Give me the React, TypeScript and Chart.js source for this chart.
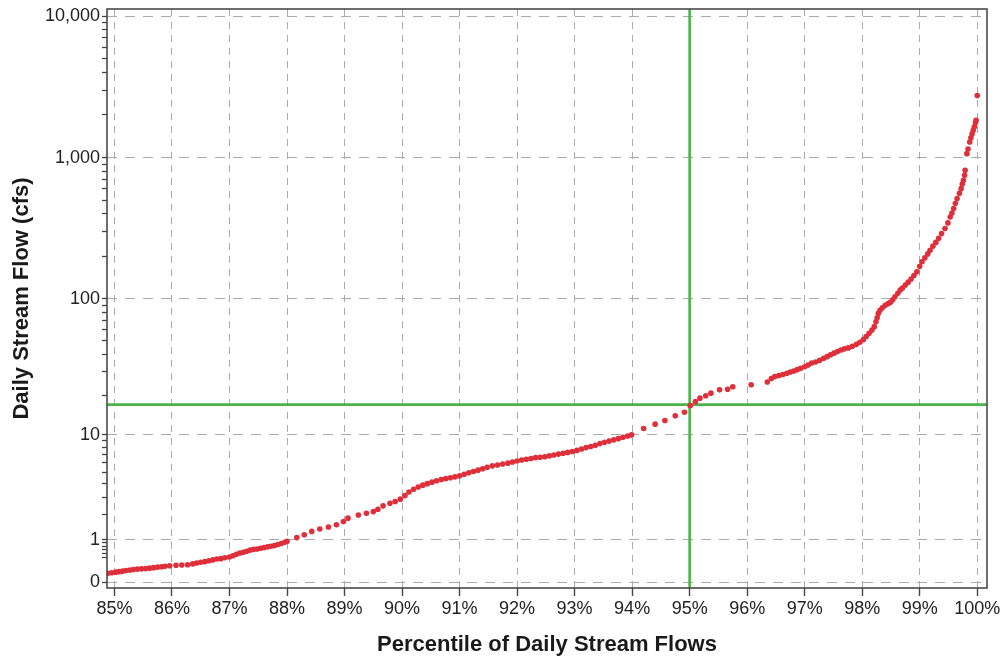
import React, { useEffect, useRef } from "react";
import { Chart, registerables } from "chart.js";

Chart.register(...registerables);

// Flow-duration curve: percentile of daily flows vs. daily stream flow (cfs)
const percentiles = [
  84.88, 84.95, 85.02, 85.08, 85.14, 85.2, 85.27, 85.33, 85.4, 85.47, 85.54, 85.61, 85.68, 85.75, 85.82, 85.88,
  85.96, 86.07, 86.17, 86.27, 86.36, 86.43, 86.5, 86.57, 86.64, 86.71, 86.78, 86.85, 86.92, 87.0, 87.06, 87.12,
  87.18, 87.24, 87.3, 87.36, 87.42, 87.48, 87.54, 87.6, 87.66, 87.72, 87.78, 87.84, 87.9, 87.96, 88.0,
  88.17, 88.3, 88.43, 88.57, 88.72, 88.86, 88.98, 89.06, 89.24, 89.38, 89.5, 89.58, 89.67, 89.79, 89.88, 89.97,
  90.05, 90.12, 90.2, 90.28, 90.36, 90.44, 90.52, 90.6, 90.68, 90.76, 90.84, 90.92, 91.0, 91.08, 91.16, 91.24,
  91.32, 91.4, 91.48, 91.57, 91.66, 91.75, 91.84, 91.92, 92.0, 92.08, 92.16, 92.24, 92.32, 92.4, 92.48, 92.56,
  92.64, 92.72, 92.8, 92.88, 92.96, 93.04, 93.12, 93.2, 93.28, 93.36, 93.44, 93.52, 93.6, 93.68, 93.76, 93.84,
  93.92, 93.99,
  94.2, 94.4, 94.57, 94.75, 94.91, 95.01, 95.1, 95.18, 95.28, 95.37, 95.52, 95.66, 95.75, 96.07,
  96.35, 96.42, 96.48, 96.55, 96.62, 96.69, 96.75, 96.81, 96.87, 96.93, 97.0, 97.06, 97.12, 97.19, 97.26, 97.33,
  97.39, 97.45, 97.51, 97.57, 97.63, 97.69, 97.76, 97.83, 97.9, 97.96, 98.02, 98.07, 98.12, 98.17, 98.21, 98.24,
  98.26, 98.28, 98.31, 98.35, 98.4, 98.45, 98.49, 98.53, 98.57, 98.62, 98.66,
  98.7, 98.75, 98.8, 98.85, 98.9, 98.95, 99.0, 99.04, 99.09, 99.14, 99.18, 99.23, 99.28, 99.33, 99.38, 99.44,
  99.49, 99.53, 99.56, 99.59, 99.62, 99.65, 99.69, 99.72, 99.74, 99.76, 99.78, 99.79, 99.82, 99.84, 99.87, 99.89,
  99.91, 99.93, 99.95, 99.97, 99.98, 100.0,
];

const flows = [
  0.16, 0.17, 0.18, 0.19, 0.2, 0.21, 0.22, 0.23, 0.24, 0.245, 0.25, 0.26, 0.27, 0.28, 0.29, 0.3,
  0.31, 0.32, 0.325, 0.33, 0.35, 0.37, 0.385, 0.4, 0.42, 0.44, 0.46, 0.47, 0.49, 0.51, 0.54, 0.58,
  0.61, 0.63, 0.66, 0.69, 0.71, 0.72, 0.74, 0.76, 0.78, 0.8, 0.82, 0.85, 0.88, 0.92, 0.95,
  1.07, 1.17, 1.29, 1.38, 1.46, 1.55, 1.69, 1.84, 1.99, 2.08, 2.16, 2.28, 2.47, 2.62, 2.72, 2.87,
  3.1, 3.35, 3.55, 3.72, 3.86, 3.98, 4.1, 4.22, 4.32, 4.4, 4.48, 4.56, 4.65, 4.8, 4.95, 5.07,
  5.2, 5.35, 5.5, 5.65, 5.75, 5.85, 5.95, 6.08, 6.2, 6.3, 6.4, 6.5, 6.6, 6.65, 6.72, 6.82,
  6.92, 7.05, 7.17, 7.28, 7.4, 7.55, 7.75, 7.95, 8.12, 8.3, 8.55, 8.75, 8.95, 9.15, 9.35, 9.58,
  9.8, 10.0,
  11.2, 12.1, 12.9, 14.0, 14.9, 16.7, 17.9, 19.0, 19.8, 20.7, 21.9, 22.1, 23.1, 23.9,
  25.0, 26.5, 27.4, 27.9, 28.4, 29.0, 29.6, 30.1, 30.8, 31.5, 32.3, 33.3, 34.4, 35.0, 36.0, 37.3,
  38.3, 39.5, 40.6, 41.7, 42.8, 43.6, 44.3, 45.5, 47.0, 48.6, 50.8, 53.5, 56.5, 59.5, 63.0, 68.3,
  73.0, 78.4, 82.5, 86.0, 89.5, 92.0, 94.0, 98.0, 103, 109, 115,
  119, 125, 131, 138, 146, 155, 170, 183, 195, 208, 221, 236, 251, 268, 290, 315,
  345, 380, 405, 436, 475, 513, 560, 603, 650, 691, 750, 812, 1066, 1150, 1288, 1380,
  1470, 1559, 1650, 1760, 1832, 2750,
];

// Axis ticks
const xTickValues = [85, 86, 87, 88, 89, 90, 91, 92, 93, 94, 95, 96, 97, 98, 99, 100];
const yMajorTicks = [0, 1, 10, 100, 1000, 10000];
const yMinorTicks = [
  0.5, 0.6, 0.7, 0.8, 0.9,
  2, 3, 4, 5, 6, 7, 8, 9,
  20, 30, 40, 50, 60, 70, 80, 90,
  200, 300, 400, 500, 600, 700, 800, 900,
  2000, 3000, 4000, 5000, 6000, 7000, 8000, 9000,
];

// 95th-percentile reference lines
const markerPercentile = 95;
const markerFlow = 17;

// Flow axis is log10(flow + 1) so that zero flow can be shown
const toAxis = (v: number) => Math.log10(v + 1);

const X_MIN = 84.87;
const X_MAX = 100.17;
const Y_MIN = -0.04;
const Y_MAX = 4.05;

const FONT = "'Liberation Sans', Arial, Helvetica, sans-serif";
const GREEN = "#47b54a";
const RED = "#df2f3a";

const framePlugin = {
  id: "plotFrame",
  afterDraw(chart: any) {
    const { ctx, chartArea } = chart;
    const { left, top, right, bottom } = chartArea;
    ctx.save();
    ctx.strokeStyle = "#4a4a4a";
    ctx.lineWidth = 1.6;
    ctx.strokeRect(left, top, right - left, bottom - top);
    ctx.restore();
  },
};

export default function App() {
  const canvasRef = useRef<HTMLCanvasElement | null>(null);

  useEffect(() => {
    document.body.style.margin = "0";
    const canvas = canvasRef.current;
    if (!canvas) return;

    const points = percentiles.map((p, i) => ({ x: p, y: toAxis(flows[i]) }));
    const majorSet = new Set(yMajorTicks.map((v) => toAxis(v)));

    const chart = new Chart(canvas, {
      type: "scatter",
      data: {
        datasets: [
          {
            label: "Daily flow",
            data: points,
            pointRadius: 2.8,
            pointBorderWidth: 0,
            pointBackgroundColor: RED,
            borderColor: RED,
            showLine: false,
          },
          {
            label: "95th percentile",
            data: [
              { x: markerPercentile, y: Y_MIN },
              { x: markerPercentile, y: Y_MAX },
            ],
            showLine: true,
            pointRadius: 0,
            borderColor: GREEN,
            borderWidth: 2.6,
          },
          {
            label: "95th percentile flow",
            data: [
              { x: X_MIN, y: toAxis(markerFlow) },
              { x: X_MAX, y: toAxis(markerFlow) },
            ],
            showLine: true,
            pointRadius: 0,
            borderColor: GREEN,
            borderWidth: 2.6,
          },
        ],
      },
      options: {
        animation: false,
        responsive: false,
        devicePixelRatio: 1,
        layout: { padding: { top: 9, right: 18, left: 0, bottom: 0 } },
        plugins: {
          legend: { display: false },
          tooltip: { enabled: false },
        },
        scales: {
          x: {
            type: "linear",
            min: X_MIN,
            max: X_MAX,
            afterBuildTicks: (scale: any) => {
              scale.ticks = xTickValues.map((v) => ({ value: v }));
            },
            afterFit: (scale: any) => {
              scale.height = 72;
              scale.paddingLeft = 0;
              scale.paddingRight = 0;
            },
            ticks: {
              autoSkip: false,
              maxRotation: 0,
              padding: 2,
              color: "#222",
              font: { family: FONT, size: 18 },
              callback: (v: any) => `${v}%`,
            },
            grid: {
              color: "#ababab",
              lineWidth: 1,
              tickLength: 8,
              tickColor: "#444",
              tickWidth: 1.4,
            },
            border: { display: false, dash: [7, 6] },
            title: {
              display: true,
              text: "Percentile of Daily Stream Flows",
              color: "#1a1a1a",
              font: { family: FONT, size: 22, weight: "bold" },
              padding: { top: 0, bottom: 2 },
            },
          },
          y: {
            type: "linear",
            min: Y_MIN,
            max: Y_MAX,
            afterBuildTicks: (scale: any) => {
              const all = [...yMajorTicks, ...yMinorTicks].sort((a, b) => a - b);
              scale.ticks = all.map((v) => ({ value: toAxis(v), major: yMajorTicks.includes(v) }));
            },
            afterFit: (scale: any) => {
              scale.width = 107;
              scale.paddingTop = 0;
              scale.paddingBottom = 0;
            },
            ticks: {
              autoSkip: false,
              padding: 2,
              color: "#222",
              font: { family: FONT, size: 18 },
              callback: (value: any) => {
                if (!majorSet.has(value)) return "";
                const flow = Math.round(Math.pow(10, value) - 1);
                return flow.toLocaleString("en-US");
              },
            },
            grid: {
              color: (ctx: any) =>
                ctx.tick && majorSet.has(ctx.tick.value) ? "#ababab" : "rgba(0,0,0,0)",
              lineWidth: 1,
              tickLength: 5,
              tickColor: "#444",
              tickWidth: 1.3,
            },
            border: { display: false, dash: [10, 8] },
            title: {
              display: true,
              text: "Daily Stream Flow (cfs)",
              color: "#1a1a1a",
              font: { family: FONT, size: 22, weight: "bold" },
              padding: { top: 9, bottom: 0 },
            },
          },
        },
      },
      plugins: [framePlugin],
    });

    return () => chart.destroy();
  }, []);

  return (
    <canvas
      ref={canvasRef}
      width={1005}
      height={660}
      style={{ display: "block", width: 1005, height: 660 }}
    />
  );
}
